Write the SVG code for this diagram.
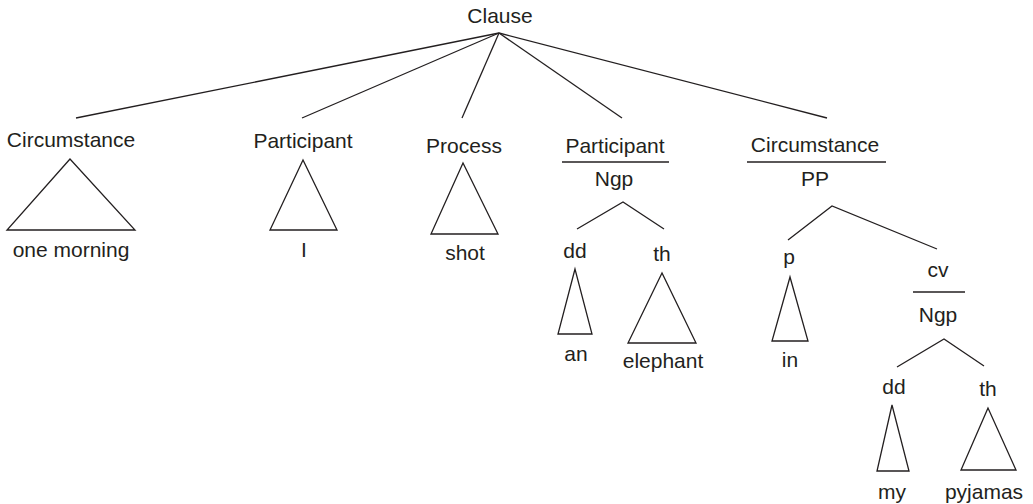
<svg xmlns="http://www.w3.org/2000/svg" width="1033" height="504" viewBox="0 0 1033 504">
<style>
text{font-family:"Liberation Sans",Arial,sans-serif;font-size:21px;fill:#231f20;text-anchor:middle}
line,polygon,polyline{stroke:#231f20;stroke-width:1.3;fill:none}
</style>
<rect width="1033" height="504" fill="#fff"/>
<g id="connectors">
<line x1="499" y1="33" x2="76" y2="118"/>
<line x1="499" y1="33" x2="302" y2="118"/>
<line x1="499" y1="33" x2="462" y2="118"/>
<line x1="499" y1="33" x2="622" y2="118"/>
<line x1="499" y1="33" x2="827" y2="118"/>
<polyline points="577,229 623,202 664,229"/>
<polyline points="788,240 832,206 937,249"/>
<polyline points="897,367 944,339 984,366"/>
</g>
<g id="clause"><text x="500" y="23">Clause</text></g>
<g id="circ1"><text x="71" y="147">Circumstance</text><polygon points="70,159 7,230 135,230"/><text x="71" y="257">one morning</text></g>
<g id="part1"><text x="303" y="148">Participant</text><polygon points="303,160 270,230 337,230"/><text x="304" y="257">I</text></g>
<g id="proc"><text x="464" y="153">Process</text><polygon points="463,163 431,234 498,234"/><text x="465" y="260">shot</text></g>
<g id="part2"><text x="615" y="153">Participant</text><line x1="562" y1="162" x2="669" y2="162"/><text x="614" y="186">Ngp</text></g>
<g id="dd1"><text x="575" y="258">dd</text><polygon points="575,269 558,334 592,334"/><text x="576" y="361">an</text></g>
<g id="th1"><text x="662" y="261">th</text><polygon points="662,273 628,343 696,343"/><text x="663" y="368">elephant</text></g>
<g id="circ2"><text x="815" y="152">Circumstance</text><line x1="747" y1="162" x2="886" y2="162"/><text x="815" y="186">PP</text></g>
<g id="p"><text x="789" y="264">p</text><polygon points="790,277 772,341 808,341"/><text x="790" y="367">in</text></g>
<g id="cv"><text x="938" y="277">cv</text><line x1="913" y1="292" x2="965" y2="292"/><text x="938" y="322">Ngp</text></g>
<g id="dd2"><text x="894" y="394">dd</text><polygon points="892,405 877,471 909,471"/><text x="892" y="499">my</text></g>
<g id="th2"><text x="988" y="396">th</text><polygon points="988,408 961,470 1016,470"/><text x="984" y="499">pyjamas</text></g>
</svg>
